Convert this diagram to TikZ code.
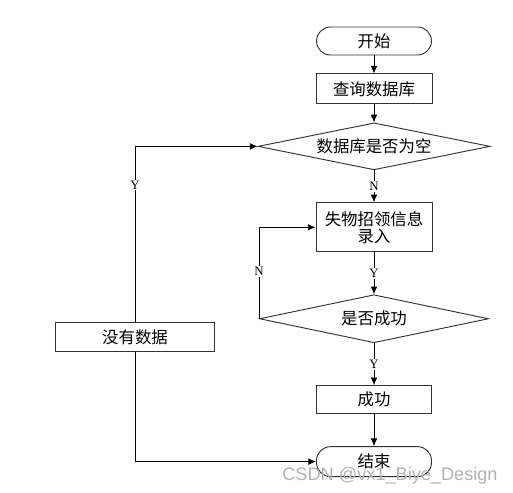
\documentclass[tikz,border=0pt]{standalone}
\usepackage{fontspec}
\newfontfamily\cjk{Noto Sans CJK SC}
\newfontfamily\ynfont{Liberation Serif}
\newfontfamily\wmfont{Liberation Sans}
\usetikzlibrary{shapes.geometric, arrows.meta, positioning}

\begin{document}
\begin{tikzpicture}[
        font=\cjk\fontsize{14}{14.5}\selectfont,
        node distance=5.4mm,
        term/.style={rectangle, rounded corners=4.2mm, draw=black!80, line width=0.8pt,
                     align=center, minimum width=3.45cm, inner sep=1mm},
        proc/.style={rectangle, draw=black!80, line width=0.8pt,
                     align=center, minimum width=3.48cm, inner sep=1mm},
        dec/.style={diamond, draw=black!80, line width=0.8pt, aspect=5,
                    align=center, inner sep=0pt},
        flow/.style={-{Latex[length=2.3mm, width=2mm]}, line width=0.7pt},
        yn/.style={font=\ynfont\fontsize{11}{11}\selectfont, fill=white, inner sep=1pt},
    ]
        \useasboundingbox (0,0) rectangle (15.39,-14.79);

        \node[term, minimum height=0.84cm] (start) at (11.22,-1.23) {开始};
        \node[proc, minimum height=0.9cm, below=of start] (query) {查询数据库};
        \node[dec, minimum width=6.96cm, minimum height=1.41cm, below=of query] (empty)
            {数据库是否为空};
        \node[proc, minimum height=1.47cm, below=9.6mm of empty] (entry)
            {失物招领信息\\录入};
        \node[dec, minimum width=6.87cm, minimum height=1.44cm, below=12.6mm of entry] (okq)
            {是否成功};
        \node[proc, minimum width=3.45cm, minimum height=0.84cm, below=12.6mm of okq] (ok)
            {成功};
        \node[term, minimum height=0.9cm, below=9.6mm of ok] (stop)
            {\raisebox{0.6mm}{结束}};
        \node[proc, minimum width=4.77cm, minimum height=0.87cm] (nodata) at (4.05,-10.11)
            {没有数据};

        \draw[flow] (start) -- (query);
        \draw[flow] (query) -- (empty);
        \draw[flow] (empty) -- node[yn]{N} (entry);
        \draw[flow] (entry) -- node[yn]{Y} (okq);
        \draw[flow] (okq) -- node[yn]{Y} (ok);
        \draw[flow] (ok) -- (stop);
        \draw[flow] (okq.west) |- node[yn, pos=0.26]{N} (entry.west);
        \draw[{Latex[length=2.3mm, width=2mm]}-, line width=0.7pt]
            (empty.west) -| node[yn, pos=0.61]{Y} (nodata.north);
        \draw[flow] (nodata.south) |- (stop.west);

        % watermark
        \node[font=\wmfont\fontsize{15.5}{16}\selectfont, text=gray!60, inner sep=0pt]
            (mark) at (11.7,-14.26) {CSDN @vx1\_Biye\_Design};
    \end{tikzpicture}
\end{document}
